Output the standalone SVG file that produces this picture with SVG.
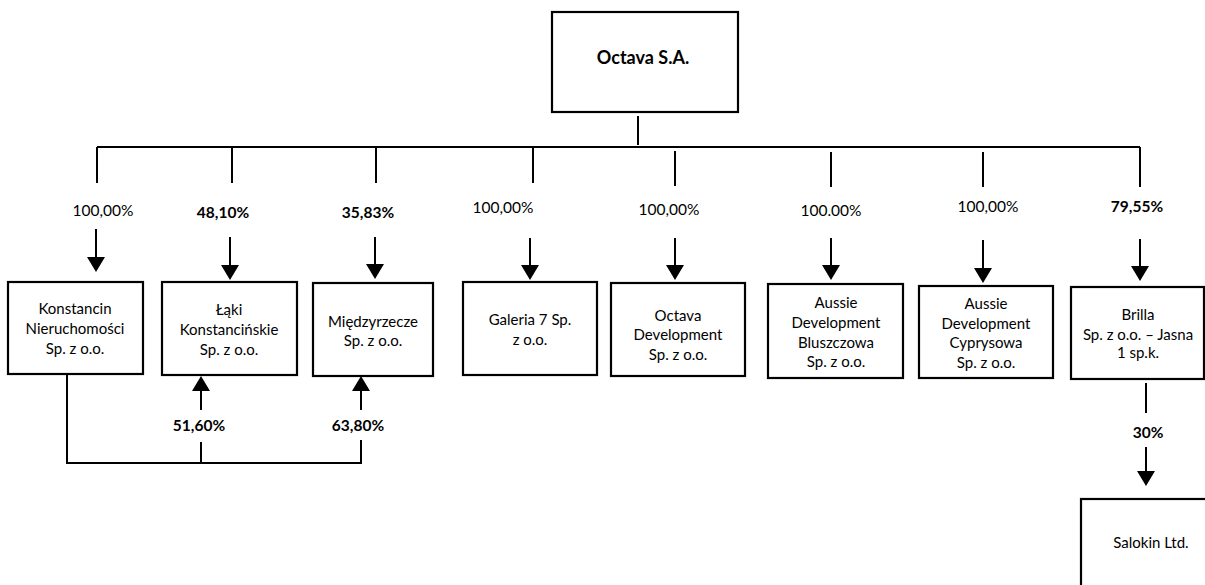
<svg xmlns="http://www.w3.org/2000/svg" width="1205" height="585" viewBox="0 0 1205 585">
<style>
.box{fill:#fff;stroke:#000;stroke-width:2.2}
.ln{fill:none;stroke:#000;stroke-width:2}
.ar{fill:none;stroke:#000;stroke-width:2;marker-end:url(#ah)}
.t{font-family:Lato,"Open Sans","Liberation Sans",sans-serif;font-size:15px;fill:#000;text-anchor:middle}
.p{font-family:Lato,"Open Sans","Liberation Sans",sans-serif;font-size:15.5px;fill:#000;text-anchor:middle}
.b{font-weight:bold}
.title{font-family:Lato,"Open Sans","Liberation Sans",sans-serif;font-size:18px;font-weight:bold;fill:#000;text-anchor:middle}
</style>
<defs>
<marker id="ah" viewBox="0 0 15 18" refX="7" refY="9" markerWidth="15" markerHeight="18" orient="auto" markerUnits="userSpaceOnUse">
<path d="M0,0 L15,9 L0,18 z" fill="#000"/>
</marker>
</defs>
<rect width="1205" height="585" fill="#fff"/>
<g id="connectors">
<line class="ln" x1="638" y1="116" x2="638" y2="145"/>
<line class="ln" x1="97" y1="147" x2="1140" y2="147"/>
<line class="ln" x1="97" y1="147" x2="97" y2="183"/>
<line class="ln" x1="232" y1="147" x2="232" y2="183"/>
<line class="ln" x1="376" y1="147" x2="376" y2="183"/>
<line class="ln" x1="533" y1="147" x2="533" y2="183"/>
<line class="ln" x1="675" y1="151" x2="675" y2="186"/>
<line class="ln" x1="831" y1="152" x2="831" y2="187"/>
<line class="ln" x1="983" y1="152" x2="983" y2="187"/>
<line class="ln" x1="1140" y1="147" x2="1140" y2="187"/>
<line class="ar" x1="96" y1="229" x2="96" y2="264"/>
<line class="ar" x1="230" y1="237" x2="230" y2="272"/>
<line class="ar" x1="375" y1="237" x2="375" y2="271"/>
<line class="ar" x1="530" y1="238" x2="530" y2="272"/>
<line class="ar" x1="675" y1="238" x2="675" y2="272"/>
<line class="ar" x1="831" y1="238" x2="831" y2="272"/>
<line class="ar" x1="983" y1="240" x2="983" y2="275"/>
<line class="ar" x1="1140" y1="239" x2="1140" y2="273"/>
<polyline class="ln" points="67,375 67,463 361,463 361,440"/>
<line class="ln" x1="201" y1="463" x2="201" y2="442"/>
<line class="ar" x1="201" y1="410" x2="201" y2="384"/>
<line class="ar" x1="361" y1="410" x2="361" y2="384"/>
<line class="ln" x1="1146" y1="383" x2="1146" y2="413"/>
<line class="ar" x1="1146" y1="447" x2="1146" y2="478"/>
<text class="p" x="103" y="216">100,00%</text>
<text class="p b" x="223" y="218">48,10%</text>
<text class="p b" x="368" y="218">35,83%</text>
<text class="p" x="503" y="213">100,00%</text>
<text class="p" x="669" y="215">100,00%</text>
<text class="p" x="831" y="216">100.00%</text>
<text class="p" x="988" y="212">100,00%</text>
<text class="p b" x="1137" y="212">79,55%</text>
<text class="p b" x="199" y="431">51,60%</text>
<text class="p b" x="358" y="431">63,80%</text>
<text class="p b" x="1148" y="438">30%</text>
</g>
<g id="octava-sa">
<rect class="box" x="552" y="12" width="186" height="100"/>
<text class="title" x="643" y="64">Octava S.A.</text>
</g>
<g id="konstancin">
<rect class="box" x="8" y="282" width="135" height="92"/>
<text class="t" x="75" y="314">Konstancin</text>
<text class="t" x="75" y="334">Nieruchomości</text>
<text class="t" x="75" y="354">Sp. z o.o.</text>
</g>
<g id="laki">
<rect class="box" x="162" y="282" width="135" height="93"/>
<text class="t" x="229" y="315">Łąki</text>
<text class="t" x="229" y="335">Konstancińskie</text>
<text class="t" x="229" y="355">Sp. z o.o.</text>
</g>
<g id="miedzyrzecze">
<rect class="box" x="313" y="283" width="120" height="93"/>
<text class="t" x="373" y="327">Międzyrzecze</text>
<text class="t" x="373" y="346">Sp. z o.o.</text>
</g>
<g id="galeria">
<rect class="box" x="463" y="282" width="134" height="93"/>
<text class="t" x="530" y="325">Galeria 7 Sp.</text>
<text class="t" x="530" y="345">z o.o.</text>
</g>
<g id="octava-dev">
<rect class="box" x="611" y="283" width="134" height="93"/>
<text class="t" x="678" y="321">Octava</text>
<text class="t" x="678" y="340">Development</text>
<text class="t" x="678" y="360">Sp. z o.o.</text>
</g>
<g id="aussie-bluszczowa">
<rect class="box" x="768" y="284" width="135" height="94"/>
<text class="t" x="836" y="308">Aussie</text>
<text class="t" x="836" y="328">Development</text>
<text class="t" x="836" y="348">Bluszczowa</text>
<text class="t" x="836" y="367">Sp. z o.o.</text>
</g>
<g id="aussie-cyprysowa">
<rect class="box" x="919" y="286" width="134" height="92"/>
<text class="t" x="986" y="309">Aussie</text>
<text class="t" x="986" y="329">Development</text>
<text class="t" x="986" y="348">Cyprysowa</text>
<text class="t" x="986" y="368">Sp. z o.o.</text>
</g>
<g id="brilla">
<rect class="box" x="1071" y="287" width="133" height="92"/>
<text class="t" x="1138" y="320">Brilla</text>
<text class="t" x="1138" y="340">Sp. z o.o. – Jasna</text>
<text class="t" x="1138" y="358">1 sp.k.</text>
</g>
<g id="salokin">
<rect class="box" x="1081" y="499" width="150" height="120"/>
<text class="t" x="1151" y="548">Salokin Ltd.</text>
</g>
</svg>
